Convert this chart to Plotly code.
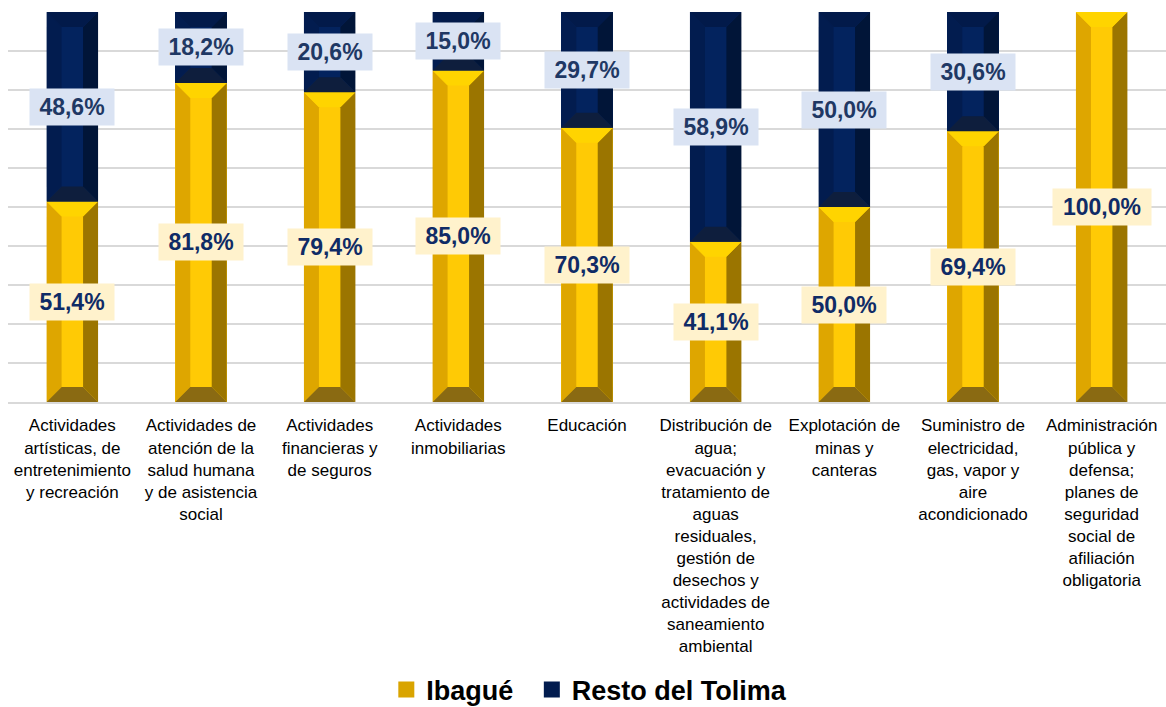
import plotly.graph_objects as go

categories = [
    "Actividades<br>artísticas, de<br>entretenimiento<br>y recreación",
    "Actividades de<br>atención de la<br>salud humana<br>y de asistencia<br>social",
    "Actividades<br>financieras y<br>de seguros",
    "Actividades<br>inmobiliarias",
    "Educación",
    "Distribución de<br>agua;<br>evacuación y<br>tratamiento de<br>aguas<br>residuales,<br>gestión de<br>desechos y<br>actividades de<br>saneamiento<br>ambiental",
    "Explotación de<br>minas y<br>canteras",
    "Suministro de<br>electricidad,<br>gas, vapor y<br>aire<br>acondicionado",
    "Administración<br>pública y<br>defensa;<br>planes de<br>seguridad<br>social de<br>afiliación<br>obligatoria",
]
ibague = [51.4, 81.8, 79.4, 85.0, 70.3, 41.1, 50.0, 69.4, 100.0]
resto = [48.6, 18.2, 20.6, 15.0, 29.7, 58.9, 50.0, 30.6, 0.0]
series_names = ["Ibagué", "Resto del Tolima"]

# styling
W, H = 1166, 707
M_L, M_R, M_T, M_B = 8, 0, 12, 305
BAR_W = 0.4
BEVEL_PX = 15
YEL = dict(center="#FFCA05", left="#DEA600", right="#9B7500", top="#FFD400", bottom="#8A6A12",
           label_bg="#FFF2CC", label_fg="#0F2B66")
NAV = dict(center="#03235E", left="#021C4F", right="#011538", top="#021A4A", bottom="#0E1E3D",
           label_bg="#DAE3F3", label_fg="#1F3864")

x = list(range(len(categories)))
plot_w = W - M_L - M_R
plot_h = H - M_T - M_B
dx = BEVEL_PX / (plot_w / len(categories))
dy_full = BEVEL_PX / plot_h

fig = go.Figure()
ib_frac = [v / 100 for v in ibague]
re_frac = [v / 100 for v in resto]
fig.add_bar(x=x, y=ib_frac, width=BAR_W, marker=dict(color=YEL["center"], line=dict(width=0)),
            name=series_names[0], showlegend=False, hoverinfo="skip")
fig.add_bar(x=x, y=re_frac, base=ib_frac, width=BAR_W, marker=dict(color=NAV["center"], line=dict(width=0)),
            name=series_names[1], showlegend=False, hoverinfo="skip")

shapes = []
annotations = []


def bevel(xc, y0, y1, pal):
    if y1 - y0 <= 0:
        return
    hw = BAR_W / 2
    dy = min(dy_full, (y1 - y0) / 2)
    xl, xr = xc - hw, xc + hw
    polys = [
        (pal["left"], [(xl, y0), (xl + dx, y0 + dy), (xl + dx, y1 - dy), (xl, y1)]),
        (pal["right"], [(xr, y0), (xr - dx, y0 + dy), (xr - dx, y1 - dy), (xr, y1)]),
        (pal["top"], [(xl, y1), (xr, y1), (xr - dx, y1 - dy), (xl + dx, y1 - dy)]),
        (pal["bottom"], [(xl, y0), (xr, y0), (xr - dx, y0 + dy), (xl + dx, y0 + dy)]),
    ]
    for col, pts in polys:
        path = "M" + " L".join(f"{px},{py}" for px, py in pts) + " Z"
        shapes.append(dict(type="path", path=path, xref="x", yref="y", fillcolor=col,
                           line=dict(width=0), layer="above"))


def label(xc, yc, v, pal):
    txt = f"{v:.1f}%".replace(".", ",")
    annotations.append(dict(x=xc, y=yc, xref="x", yref="y", text=txt, showarrow=False,
                            font=dict(family="Liberation Sans, Arial", size=23, color=pal["label_fg"], weight="bold"),
                            bgcolor=pal["label_bg"], width=14 * len(txt) + 12, height=34))


for i in x:
    bevel(i, 0, ib_frac[i], YEL)
    bevel(i, ib_frac[i], ib_frac[i] + re_frac[i], NAV)
for i in x:
    if ibague[i] > 0:
        label(i, ib_frac[i] / 2, ibague[i], YEL)
    if resto[i] > 0:
        label(i, ib_frac[i] + re_frac[i] / 2, resto[i], NAV)

# legend entries
fig.add_scatter(x=[None], y=[None], mode="markers", name=series_names[0] + "\u2002",
                marker=dict(symbol="square", size=16, color="#D9A400"))
fig.add_scatter(x=[None], y=[None], mode="markers", name=series_names[1],
                marker=dict(symbol="square", size=16, color=NAV["left"]))

fig.update_layout(
    width=W, height=H,
    margin=dict(l=M_L, r=M_R, t=M_T, b=M_B, autoexpand=False),
    barmode="stack",
    plot_bgcolor="white", paper_bgcolor="white",
    shapes=shapes, annotations=annotations,
    showlegend=True,
    legend=dict(orientation="h", x=0.502, xanchor="center", yref="container", y=(H - 690) / H, yanchor="middle",
                font=dict(family="Liberation Sans, Arial", size=27, color="#000000", weight="bold"),
                itemsizing="trace", traceorder="normal", tracegroupgap=0, itemwidth=30),
    font=dict(family="Liberation Sans, Arial"),
)
fig.update_xaxes(range=[-0.5, len(categories) - 0.5], tickmode="array", tickvals=x, ticktext=categories,
                 tickfont=dict(family="Liberation Sans, Arial", size=17, color="#000000"),
                 showgrid=False, zeroline=False, showline=True, linecolor="#D9D9D9", linewidth=2,
                 ticks="", ticklabelstandoff=7, fixedrange=True, automargin=False)
fig.update_yaxes(range=[0, 1], dtick=0.1, showticklabels=False, showgrid=True, gridcolor="#D9D9D9",
                 gridwidth=2, zeroline=False, showline=False, fixedrange=True, automargin=False)

fig.write_html("out.html", config={"displayModeBar": False},
               post_script="document.body.style.margin='0';")
